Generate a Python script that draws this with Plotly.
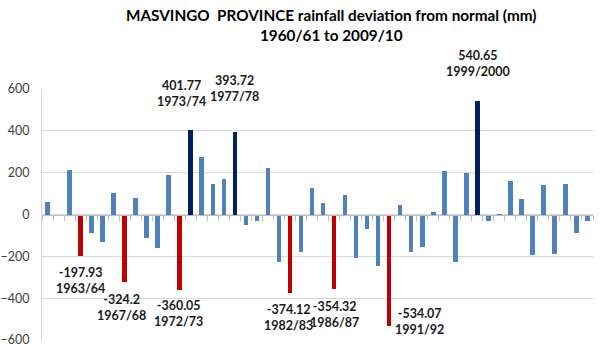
import plotly.graph_objects as go

seasons = [f"{y}/{str(y+1)[-2:]}" if y != 1999 else "1999/2000" for y in range(1960, 2010)]
deviation = [62, 0, 214, -197.93, -88, -132, 102, -324.2, 80, -113,
             -158, 187, -360.05, 401.77, 274, 145, 171, 393.72, -51, -30,
             222, -227, -374.12, -179, 129, 54, -354.32, 91, -209, -70,
             -246, -534.07, 46, -179, -153, 11, 207, -228, 198, 540.65,
             -29, -6, 158, 75, -195, 139, -190, 147, -88, -32]

dry_years = ["1963/64", "1967/68", "1972/73", "1982/83", "1986/87", "1991/92"]
wet_years = ["1973/74", "1977/78", "1999/2000"]

BLUE = "#4F81BD"
RED = "#C00000"
NAVY = "#002060"
colors = [RED if s in dry_years else NAVY if s in wet_years else BLUE for s in seasons]
idx = list(range(len(seasons)))

fig = go.Figure(go.Bar(x=idx, y=deviation, marker=dict(color=colors, line=dict(width=0)),
                       width=0.42, hoverinfo="skip"))

# label offsets (px) for highlighted seasons
label_cfg = {
    "1963/64": dict(xshift=0, yshift=-7),
    "1967/68": dict(xshift=-3, yshift=-8),
    "1972/73": dict(xshift=-1, yshift=-6),
    "1973/74": dict(xshift=-9, yshift=19),
    "1977/78": dict(xshift=0, yshift=26),
    "1982/83": dict(xshift=-1, yshift=-7),
    "1986/87": dict(xshift=0, yshift=-8),
    "1999/2000": dict(xshift=1, yshift=20),
}
lab_font = dict(family="Lato", size=12.5, color="#1a1a1a")
for i, (s, v) in enumerate(zip(seasons, deviation)):
    if s in label_cfg:
        c = label_cfg[s]
        fig.add_annotation(x=i, y=v, text=f"<b>{v:g}<br>{s}</b>", showarrow=False,
                           xanchor="center", yanchor="bottom" if v > 0 else "top",
                           xshift=c["xshift"], yshift=c["yshift"], font=lab_font)
    elif s == "1991/92":
        fig.add_annotation(x=i, y=v, text=f"<b>{v:g}<br>{s}</b>", showarrow=False,
                           xanchor="left", yanchor="middle", xshift=4, yshift=5,
                           font=lab_font)

fig.update_layout(
    width=600, height=352,
    margin=dict(l=42, r=7, t=89, b=12, autoexpand=False),
    paper_bgcolor="white", plot_bgcolor="white",
    showlegend=False,
    font=dict(family="Lato", color="#404040"),
    title=dict(text="<b>MASVINGO  PROVINCE rainfall deviation from normal (mm)<br>1960/61 to 2009/10</b>",
               x=0.525, xref="paper", xanchor="center", y=0.94, yref="container", yanchor="middle",
               font=dict(family="Lato", size=15.3, color="#000000")),
    bargap=0,
)
fig.update_xaxes(range=[-0.5, len(seasons) - 0.5], anchor="free", position=0.5,
                 showline=True, linecolor="#BFBFBF", linewidth=1,
                 ticks="outside", ticklen=5, tickcolor="#BFBFBF",
                 tickvals=[i - 0.5 for i in range(len(seasons) + 1)],
                 showticklabels=False, showgrid=False, zeroline=False, automargin=False)
fig.update_yaxes(range=[-600, 600], tickvals=[-600, -400, -200, 0, 200, 400, 600],
                 showgrid=True, gridcolor="#D9D9D9", gridwidth=1,
                 showline=True, linecolor="#D9D9D9", zeroline=False, automargin=False,
                 tickfont=dict(family="Lato", size=12.5, color="#404040"),
                 ticklabelstandoff=9)

# remove the default page margin so the 600x352 figure fills the window exactly
fig.write_html("out.html", config={"displayModeBar": False},
               post_script="document.body.style.margin='0';")
